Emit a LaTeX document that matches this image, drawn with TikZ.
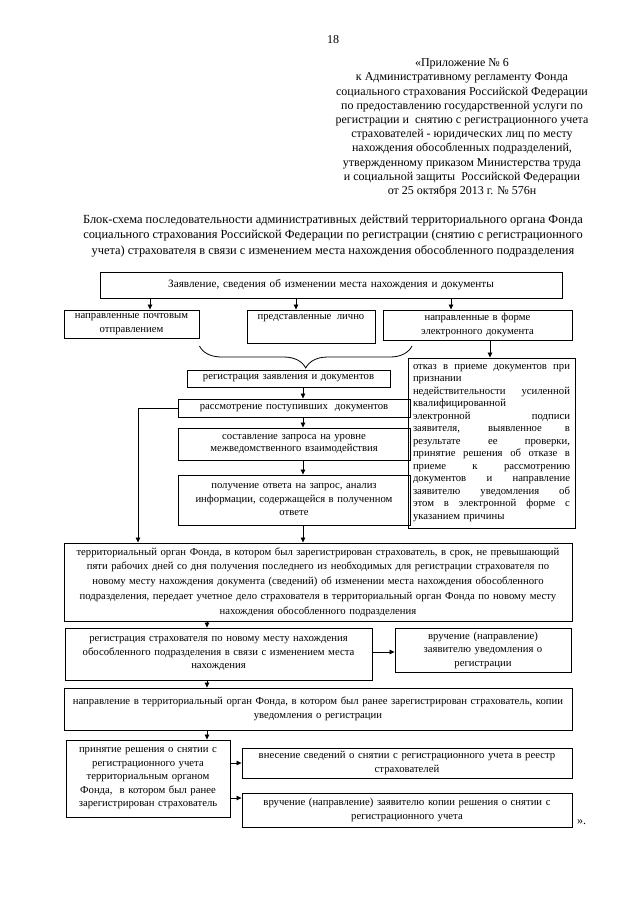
\documentclass[tikz,border=0pt]{standalone}
\usepackage{fontspec}
\setmainfont{Liberation Serif}
\usetikzlibrary{arrows.meta,decorations.pathreplacing}
\newcommand\jl[1]{\leavevmode\hbox to 157pt{\spaceskip=\fontdimen2\font plus 1fil\relax #1}}
\begin{document}
\begin{tikzpicture}[x=1pt,y=-1pt,
  box/.style={draw, line width=0.9pt, inner sep=0pt, align=center,
    font=\fontsize{10.7}{13.5}\selectfont},
  arr/.style={-{Triangle[length=5pt,width=4.5pt]}, line width=0.8pt},
  plain/.style={inner sep=0pt, align=center}]
\useasboundingbox (0,0) rectangle (640,905);
\fill[white] (0,0) rectangle (640,905);

% column / row coordinates
\coordinate (cA) at (150,0);
\coordinate (cB) at (296,0);
\coordinate (cC) at (451,0);
\coordinate (cD) at (490,0);
\coordinate (cM) at (303,0);
\coordinate (cL) at (138,0);
\coordinate (cR) at (207,0);
\coordinate (rV) at (0,652);
\coordinate (rK) at (0,798);

% header
\node[plain, font=\fontsize{12}{14}\selectfont] (pg) at (333,40) {18};
\node[plain, font=\fontsize{12}{14.2}\selectfont] (hdr) at (462,128) {«Приложение № 6\\
к Административному регламенту Фонда\\
социального страхования Российской Федерации\\
по предоставлению государственной услуги по\\
регистрации и \ снятию с регистрационного учета\\
страхователей - юридических лиц по месту\\
нахождения обособленных подразделений,\\
утвержденному приказом Министерства труда\\
и социальной защиты \ Российской Федерации\\
от 25 октября 2013 г. № 576н};
\node[plain, font=\fontsize{12.4}{15.5}\selectfont] (ttl) at (333,236) {Блок-схема последовательности административных действий территориального органа Фонда\\
социального страхования Российской Федерации по регистрации (снятию с регистрационного\\
учета) страхователя в связи с изменением места нахождения обособленного подразделения};

% boxes
\node[box, minimum width=462, minimum height=26, text width=455, font=\fontsize{11.2}{13.5}\selectfont] (b1) at (331,285)
  {Заявление, сведения об изменении места нахождения и документы};
\node[box, minimum width=135, minimum height=28, text width=131] (a2) at (131.5,324)
  {направленные почтовым\\отправлением};
\node[box, minimum width=128, minimum height=33] (b2) at (311,326.5)
  {\parbox[c][33pt][t]{124pt}{\centering\vspace*{4pt}представленные \ лично}};
\node[box, minimum width=189, minimum height=30, text width=185] (c2) at (477.5,325)
  {направленные в форме\\электронного документа};
\node[box, minimum width=167, minimum height=170, text width=157, align=left,
      font=\fontsize{10.7}{12.5}\selectfont] (otk) at (491.5,443)
  {\jl{отказ в приеме документов при}\\
   признании\\
   \jl{недействительности усиленной}\\
   квалифицированной\\
   \jl{электронной подписи}\\
   \jl{заявителя, выявленное в}\\
   \jl{результате ее проверки,}\\
   \jl{принятие решения об отказе в}\\
   \jl{приеме к рассмотрению}\\
   \jl{документов и направление}\\
   \jl{заявителю уведомления об}\\
   \jl{этом в электронной форме с}\\
   указанием причины};
\node[box, minimum width=203, minimum height=17, text width=199] (reg) at (288.5,378.5)
  {регистрация заявления и документов};
\node[box, minimum width=232, minimum height=18, text width=228] (rass) at (294,408)
  {рассмотрение поступивших \ документов};
\node[box, minimum width=232, minimum height=32, text width=228, font=\fontsize{10.7}{12.5}\selectfont] (sost) at (294,444)
  {составление запроса на уровне\\межведомственного взаимодействия};
\node[box, minimum width=232, minimum height=50, text width=228] (pol) at (294,500)
  {получение ответа на запрос, анализ\\информации, содержащейся в полученном\\ответе};
\node[box, minimum width=508, minimum height=78, text width=504, font=\fontsize{10.7}{14.7}\selectfont] (big) at (318,582)
  {территориальный орган Фонда, в котором был зарегистрирован страхователь, в срок, не превышающий\\
   пяти рабочих дней со дня получения последнего из необходимых для регистрации страхователя по\\
   новому месту нахождения документа (сведений) об изменении места нахождения обособленного\\
   подразделения, передает учетное дело страхователя в территориальный орган Фонда по новому месту\\
   нахождения обособленного подразделения};
\node[box, minimum width=307, minimum height=52, text width=303] (regs) at (218.5,654)
  {регистрация страхователя по новому месту нахождения\\обособленного подразделения в связи с изменением места\\нахождения};
\node[box, minimum width=176, minimum height=44, text width=172] (vru) at (483,650)
  {вручение (направление)\\заявителю уведомления о\\регистрации};
\node[box, minimum width=508, minimum height=42, text width=504] (napr) at (318,709)
  {направление в территориальный орган Фонда, в котором был ранее зарегистрирован страхователь, копии\\уведомления о регистрации};
\node[box, minimum width=164, minimum height=77, text width=160] (prin) at (148,778.5)
  {принятие решения о снятии с\\регистрационного учета\\территориальным органом\\Фонда, \ в котором был ранее\\зарегистрирован страхователь};
\node[box, minimum width=330, minimum height=30, text width=326] (vnes) at (407,763)
  {внесение сведений о снятии с регистрационного учета в реестр\\страхователей};
\node[box, minimum width=330, minimum height=34, text width=326] (vkop) at (407,810)
  {вручение (направление) заявителю копии решения о снятии с\\регистрационного учета};
\node[plain, font=\fontsize{12}{14}\selectfont, anchor=west] (qt) at (577,822) {».};

% brace
\draw[line width=0.8pt, decorate, decoration={brace, mirror, amplitude=22pt, aspect=0.5}]
  (a2.south east |- 0,346) -- (412,346);

% connectors
\draw[arr] (b1.south -| cA) -- (a2.north -| cA);
\draw[arr] (b1.south -| cB) -- (b2.north -| cB);
\draw[arr] (b1.south -| cC) -- (c2.north -| cC);
\draw[arr] (c2.south -| cD) -- (otk.north -| cD);
\draw[arr] (reg.south -| cM) -- (rass.north -| cM);
\draw[arr] (rass.south -| cM) -- (sost.north -| cM);
\draw[arr] (sost.south -| cM) -- (pol.north -| cM);
\draw[arr] (pol.south -| cM) -- (big.north -| cM);
\draw[arr] (rass.west) -| (big.north -| cL);
\draw[arr] (big.south -| cR) -- (regs.north -| cR);
\draw[arr] (regs.east |- rV) -- (vru.west |- rV);
\draw[arr] (regs.south -| cR) -- (napr.north -| cR);
\draw[arr] (napr.south -| cR) -- (prin.north -| cR);
\draw[arr] (prin.east |- vnes.west) -- (vnes.west);
\draw[arr] (prin.east |- rK) -- (vkop.west |- rK);
\end{tikzpicture}
\end{document}
